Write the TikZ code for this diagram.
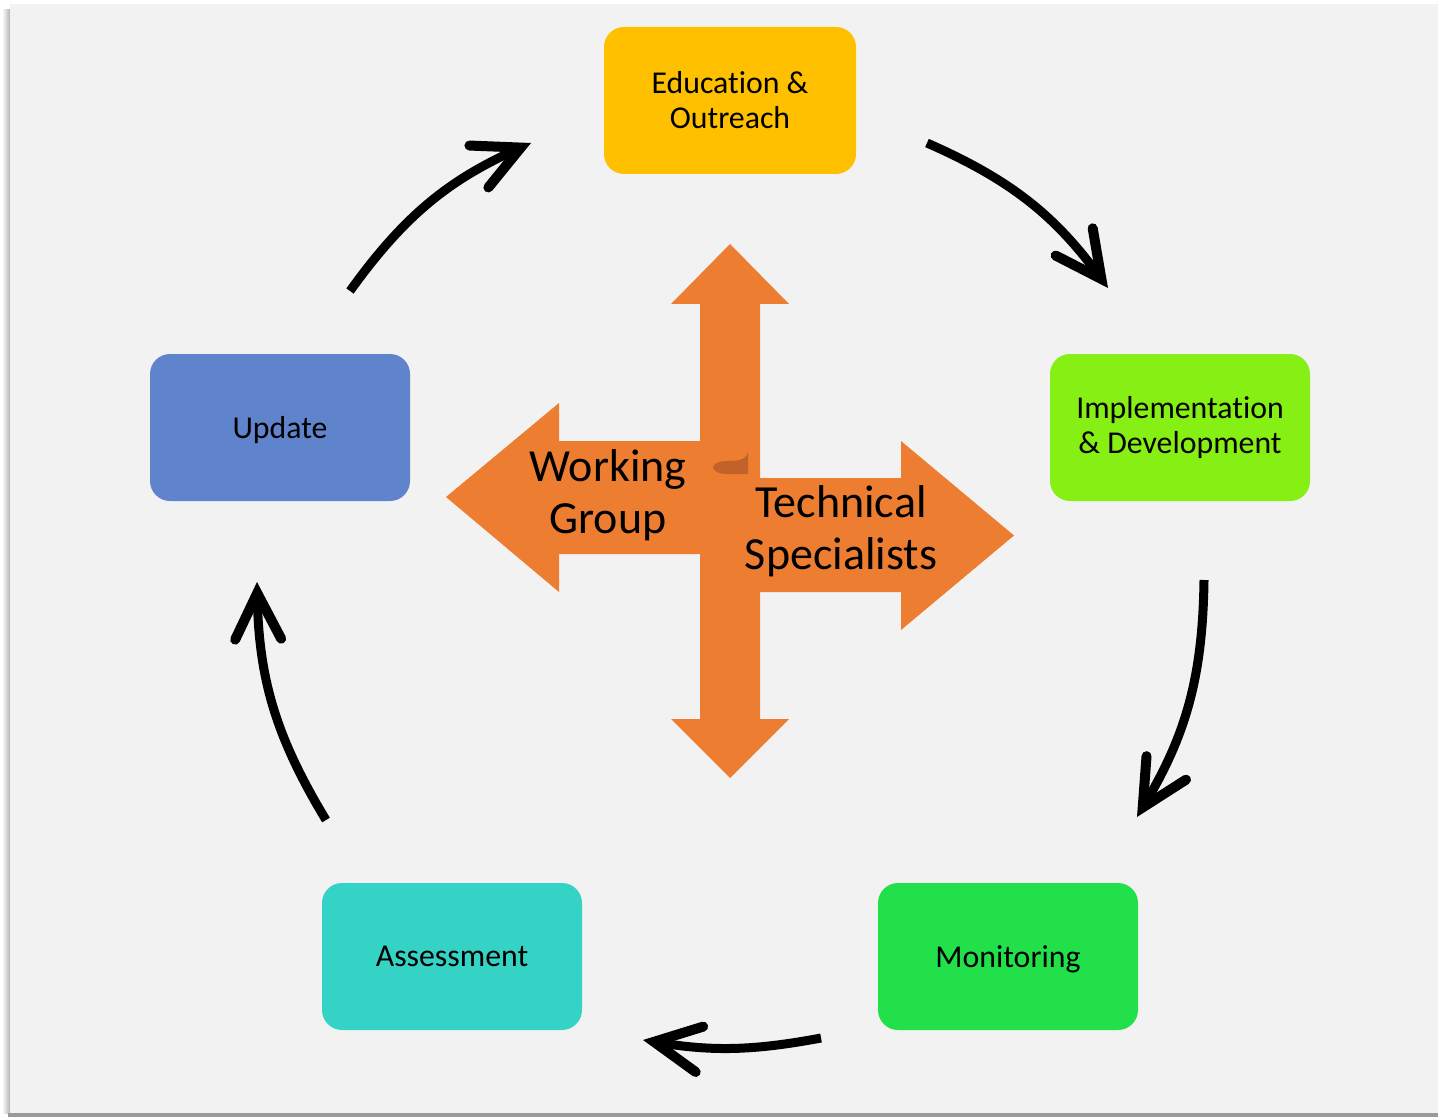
\documentclass[tikz,border=0pt]{standalone}
\usepackage{fontspec}
\setmainfont{Carlito}[RawFeature={-liga;-clig;-calt;-dlig}]
\usetikzlibrary{arrows.meta}

\definecolor{panel}{HTML}{F2F2F2}
\definecolor{edgegray}{HTML}{9A9A9A}
\definecolor{crossorange}{HTML}{ED7D31}
\definecolor{curlorange}{HTML}{C0622A}
\definecolor{eduyellow}{HTML}{FFC000}
\definecolor{implgreen}{HTML}{86EF14}
\definecolor{monigreen}{HTML}{22E04A}
\definecolor{assessteal}{HTML}{35D3C5}
\definecolor{updateblue}{HTML}{6084CC}

\tikzset{
  stage/.style={rounded corners=10pt, minimum width=130pt, minimum height=73.5pt,
    align=center, inner sep=0pt, font=\fontsize{15.9}{17.5}\selectfont},
  oneline/.style={text depth=0pt},
  cycarrow/.style={line width=4.5pt, line cap=butt,
    -{Straight Barb[length=23pt,width=23pt,line width=5pt,line cap=round,line join=miter]}},
  bigtext/.style={align=center, inner sep=0pt, font=\fontsize{23}{26}\selectfont}
}

\begin{document}
\begin{tikzpicture}[x=0.5pt,y=-0.5pt]
\useasboundingbox (0,0) rectangle (1438,1117);
\fill[white] (0,0) rectangle (1438,1117);

% page panel with its soft left shadow and bottom edge
\shade[left color=white, right color=black!30] (2,10) rectangle (10,1113);
\fill[edgegray] (8,1113) rectangle (1438,1117);
\fill[panel] (10,4) rectangle (1438,1113);

% central four-way arrow
\fill[crossorange] (730,244) -- (789,304) -- (760,304) -- (760,478) -- (901,478)
  -- (901,441) -- (1014,535.5) -- (901,630) -- (901,592) -- (760,592) -- (760,719)
  -- (789,719) -- (730,778) -- (671,719) -- (700,719) -- (700,554) -- (559,554)
  -- (559,592) -- (446,497) -- (559,403) -- (559,441) -- (700,441) -- (700,304)
  -- (671,304) -- cycle;
\fill[curlorange] (748,474) -- (728,474) .. controls (708,474) and (708,461) .. (728,461)
  .. controls (742,461) and (747,458) .. (748,452) -- cycle;

\node[bigtext] (wg) at (608,495) {Working\\Group};
\node[bigtext] (ts) at (841,531) {Technical\\Specialists};

% the five stages
\node[stage, fill=eduyellow, minimum width=126pt] (edu) at (730,100.5) {Education \&\\Outreach};
\node[stage, fill=implgreen] (impl) at (1180,427.5) {Implementation\\\& Development};
\node[stage, oneline, fill=monigreen] (moni) at (1008,956.5) {Monitoring};
\node[stage, oneline, fill=assessteal] (assess) at (452,956.5) {Assessment};
\node[stage, oneline, fill=updateblue] (upd) at (280,427.5) {Update};

% cycle arrows
\coordinate (a1s) at (350,291);  \coordinate (a1e) at (531,143);
\coordinate (a2s) at (927,143);  \coordinate (a2e) at (1108,288);
\coordinate (a3s) at (1204,580); \coordinate (a3e) at (1137,817);
\coordinate (a4s) at (821,1038); \coordinate (a4e) at (643,1040);
\coordinate (a5s) at (326,820);  \coordinate (a5e) at (257,582);

\draw[cycarrow] (a1s) to[bend left=15] (a1e);
\draw[cycarrow] (a2s) to[bend left=15] (a2e);
\draw[cycarrow] (a3s) to[bend left=15] (a3e);
\draw[cycarrow] (a4s) to[bend left=10] (a4e);
\draw[cycarrow] (a5s) to[bend left=15] (a5e);
\end{tikzpicture}
\end{document}
